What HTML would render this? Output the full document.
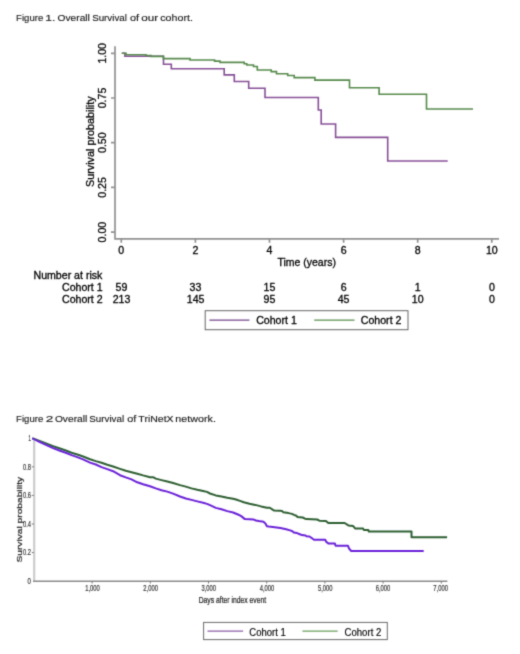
<!DOCTYPE html>
<html><head><meta charset="utf-8"><title>Overall Survival</title>
<style>
html,body{margin:0;padding:0;background:#fff;}
body{width:520px;height:654px;overflow:hidden;}
svg{display:block;will-change:transform;}
text{font-family:"Liberation Sans",sans-serif;}
</style></head>
<body>
<svg width="520" height="654" viewBox="0 0 520 654">
<defs><filter id="soft" x="0" y="0" width="520" height="654" filterUnits="userSpaceOnUse"><feConvolveMatrix order="3" kernelMatrix="0.0225 0.1050 0.0225 0.1050 0.4900 0.1050 0.0225 0.1050 0.0225" divisor="1" edgeMode="duplicate"/></filter></defs>
<rect width="520" height="654" fill="#fff"/>
<g filter="url(#soft)">

<!-- ================= FIGURE 1 ================= -->
<g font-size="9.9" fill="#1a1a1a" stroke="#1a1a1a" stroke-width="0.15">
  <text x="16.12" y="21.1" textLength="27.11" lengthAdjust="spacingAndGlyphs">Figure</text>
  <text x="45.38" y="21.1" textLength="10.13" lengthAdjust="spacingAndGlyphs">1.</text>
  <text x="57.52" y="21.1" textLength="32.36" lengthAdjust="spacingAndGlyphs">Overall</text>
  <text x="92.16" y="21.1" textLength="34.78" lengthAdjust="spacingAndGlyphs">Survival</text>
  <text x="129.94" y="21.1" textLength="9.14" lengthAdjust="spacingAndGlyphs">of</text>
  <text x="141.31" y="21.1" textLength="16.88" lengthAdjust="spacingAndGlyphs">our</text>
  <text x="160.25" y="21.1" textLength="32.62" lengthAdjust="spacingAndGlyphs">cohort.</text>
</g>

<!-- axes -->
<g stroke="#919191" stroke-width="1.7" fill="none">
  <path d="M115,46.2 V238.8 H499"/>
  <path d="M111,53.3 H115 M111,98 H115 M111,142.7 H115 M111,187.4 H115 M111,232.1 H115"/>
  <path d="M121.3,238.8 V242.7 M195.4,238.8 V242.7 M269.5,238.8 V242.7 M343.6,238.8 V242.7 M417.7,238.8 V242.7 M491.8,238.8 V242.7"/>
</g>

<!-- y tick labels (rotated) -->
<g font-size="10.6" fill="#000" stroke="#000" stroke-width="0.3" text-anchor="middle">
  <text transform="translate(106,53.3) rotate(-90)">1.00</text>
  <text transform="translate(106,98) rotate(-90)">0.75</text>
  <text transform="translate(106,142.7) rotate(-90)">0.50</text>
  <text transform="translate(106,187.4) rotate(-90)">0.25</text>
  <text transform="translate(106,232.1) rotate(-90)">0.00</text>
</g>
<text transform="translate(93.8,141.7) rotate(-90)" font-size="10.8" fill="#000" stroke="#000" stroke-width="0.3" text-anchor="middle" textLength="90.7" lengthAdjust="spacingAndGlyphs">Survival probability</text>

<!-- x tick labels -->
<g font-size="10.6" fill="#000" stroke="#000" stroke-width="0.3" text-anchor="middle">
  <text x="121.3" y="253.8">0</text>
  <text x="195.4" y="253.8">2</text>
  <text x="269.5" y="253.8">4</text>
  <text x="343.6" y="253.8">6</text>
  <text x="417.7" y="253.8">8</text>
  <text x="491.8" y="253.8">10</text>
</g>
<text x="306.7" y="265.8" font-size="10.5" fill="#000" stroke="#000" stroke-width="0.3" text-anchor="middle">Time (years)</text>

<!-- curves -->
<path fill="none" stroke="#864f96" stroke-width="1.6" d="M121.8,53.3 H124.9 V56.3 H163.5 V64.2 H171.3 V68.8 H224.2 V74.9 H234.3 V81.5 H248.7 V88.3 H265 V97.5 H318.3 V110 H321.2 V124 H335.6 V137.4 H387.7 V161 H447.7"/>
<path fill="none" stroke="#578a4c" stroke-width="1.6" d="M121.8,53.3 H126 V54.7 H146 V55.5 H151 V56.4 H163.4 V58.6 H190 V60 H214.6 V61.1 H220 V62.4 H244.2 V63.8 H246.8 V65 H253.5 V66.5 H257.3 V70 H271.2 V71.6 H276.5 V73.7 H287.7 V75.5 H294.2 V77.6 H314.9 V80.1 H349.5 V87.8 H379.1 V94.2 H426.5 V109 H473"/>

<!-- number at risk -->
<g font-size="10.6" fill="#000" stroke="#000" stroke-width="0.3">
  <text x="33.5" y="278.5">Number at risk</text>
  <text x="62" y="290.6">Cohort 1</text>
  <text x="62" y="302.9">Cohort 2</text>
</g>
<g font-size="10.6" fill="#000" stroke="#000" stroke-width="0.3" text-anchor="middle">
  <text x="121.5" y="290.6">59</text>
  <text x="195.4" y="290.6">33</text>
  <text x="269.5" y="290.6">15</text>
  <text x="343.6" y="290.6">6</text>
  <text x="417.7" y="290.6">1</text>
  <text x="491.9" y="290.6">0</text>
  <text x="121.5" y="302.6">213</text>
  <text x="195.6" y="302.6">145</text>
  <text x="269.5" y="302.6">95</text>
  <text x="343.6" y="302.6">45</text>
  <text x="417.7" y="302.6">10</text>
  <text x="491.9" y="302.6">0</text>
</g>

<!-- legend 1 -->
<rect x="205.2" y="310.7" width="202.8" height="19" fill="none" stroke="#666" stroke-width="1"/>
<path d="M209.4,320.1 H249.4" stroke="#72458a" stroke-width="1.3"/>
<path d="M314.2,320.1 H354.5" stroke="#5a8e50" stroke-width="1.3"/>
<g font-size="10.6" fill="#000" stroke="#000" stroke-width="0.3">
  <text x="256.2" y="324.3">Cohort 1</text>
  <text x="360.8" y="324.3">Cohort 2</text>
</g>

<!-- ================= FIGURE 2 ================= -->
<g font-size="9.9" fill="#1a1a1a" stroke="#1a1a1a" stroke-width="0.15">
  <text x="16.12" y="421.5" textLength="27.11" lengthAdjust="spacingAndGlyphs">Figure</text>
  <text x="45.82" y="421.5" textLength="7.56" lengthAdjust="spacingAndGlyphs">2</text>
  <text x="54.92" y="421.5" textLength="32.36" lengthAdjust="spacingAndGlyphs">Overall</text>
  <text x="89.26" y="421.5" textLength="34.89" lengthAdjust="spacingAndGlyphs">Survival</text>
  <text x="127.24" y="421.5" textLength="9.14" lengthAdjust="spacingAndGlyphs">of</text>
  <text x="138.37" y="421.5" textLength="35.25" lengthAdjust="spacingAndGlyphs">TriNetX</text>
  <text x="175.39" y="421.5" textLength="40.49" lengthAdjust="spacingAndGlyphs">network.</text>
</g>

<!-- axes -->
<path d="M34.2,438.5 V581.2" stroke="#cccccc" stroke-width="2.2" fill="none"/>
<path d="M33,581.2 H447.4" stroke="#8a8a8a" stroke-width="1.6" fill="none"/>
<g stroke="#777" stroke-width="1" fill="none">
  <path d="M31.8,466.8 H34 M31.8,495.4 H34 M31.8,524 H34 M31.8,552.6 H34"/>
  <path d="M92.1,581 V583.5 M150.3,581 V583.5 M208.5,581 V583.5 M266.7,581 V583.5 M324.9,581 V583.5 M383.1,581 V583.5 M441.3,581 V583.5"/>
</g>
<g font-size="8.8" fill="#333" stroke="#333" stroke-width="0.2" text-anchor="end">
  <text x="30.8" y="441.2" textLength="2.4" lengthAdjust="spacingAndGlyphs">1</text>
  <text x="31" y="469.7" textLength="8" lengthAdjust="spacingAndGlyphs">0.8</text>
  <text x="31" y="498.1" textLength="8" lengthAdjust="spacingAndGlyphs">0.6</text>
  <text x="31" y="526.8" textLength="8" lengthAdjust="spacingAndGlyphs">0.4</text>
  <text x="31" y="555.3" textLength="8" lengthAdjust="spacingAndGlyphs">0.2</text>
  <text x="31" y="584" textLength="3.4" lengthAdjust="spacingAndGlyphs">0</text>
</g>
<g font-size="8.6" fill="#333" stroke="#333" stroke-width="0.2" text-anchor="middle">
  <text x="92.5" y="591.4" textLength="14.6" lengthAdjust="spacingAndGlyphs">1,000</text>
  <text x="150.6" y="591.4" textLength="14.6" lengthAdjust="spacingAndGlyphs">2,000</text>
  <text x="208.8" y="591.4" textLength="14.6" lengthAdjust="spacingAndGlyphs">3,000</text>
  <text x="267" y="591.4" textLength="14.6" lengthAdjust="spacingAndGlyphs">4,000</text>
  <text x="325.2" y="591.4" textLength="14.6" lengthAdjust="spacingAndGlyphs">5,000</text>
  <text x="383" y="591.4" textLength="14.6" lengthAdjust="spacingAndGlyphs">6,000</text>
  <text x="440.6" y="591.4" textLength="14.6" lengthAdjust="spacingAndGlyphs">7,000</text>
</g>
<text x="198.7" y="602.6" font-size="8.9" fill="#222" stroke="#222" stroke-width="0.2" textLength="67.5" lengthAdjust="spacingAndGlyphs">Days after index event</text>
<text transform="translate(21.7,519.7) rotate(-90)" font-size="7.5" fill="#222" stroke="#222" stroke-width="0.2" text-anchor="middle" textLength="85.6" lengthAdjust="spacingAndGlyphs">Survival probability</text>

<!-- curves -->
<polyline fill="none" stroke="#2e5f30" stroke-width="2" stroke-linejoin="round" points="32.3,438.3 41.5,441.6 53.1,446.3 60,448.5 65.8,450.5 71.5,452.8 77.3,454.5 83.1,456.5 90,459.2 95.8,461.1 101.5,462.8 107.3,464.8 113.1,466.5 120,468.9 125.8,470.8 131.5,472.2 137.3,473.7 143.1,475.4 150,477.2 153.5,477.3 155.8,478.6 161.5,480.1 167.3,481.5 173.1,483 180,485.1 185.8,486.6 191.5,488.4 197.3,489.8 203.1,491 207,491.9 210,493.5 215.8,495.4 221.5,496.6 227.3,497.8 233.1,498.7 236,499.5 240,500.9 243.8,502.3 249.5,503.8 255.3,504.9 261.1,506.4 266.9,507.7 269.8,507.7 273,509.9 274.1,510.5 280,510.8 282.2,511.1 283.3,512.2 288.5,513.1 292,513.9 294,514.9 296.3,515.8 297.5,516.9 302.7,517.5 305,518.7 306.7,519.1 317.1,519.5 319.4,520.7 325.9,520.9 328.3,523 344.6,523 348.4,525.4 353.2,526.1 355.3,528.6 363.1,528.6 363.8,529.9 368.3,529.9 368.8,531.6 411.5,531.6 411.5,537.2 447.1,537.2"/>
<polyline fill="none" stroke="#6a22d8" stroke-width="2" stroke-linejoin="round" points="32.3,438.3 41.5,442.8 53.1,448.1 60,450.7 65.8,452.8 71.5,455.1 77.3,457.1 83.1,459.4 90,462.6 95.8,464.5 101.5,467.1 107.3,469.1 113.1,471.2 120,475.2 125.8,477.4 131.5,479.4 137.3,482.3 143.1,484.3 150,486.3 155.8,488.4 161.5,490.2 167.3,491.6 173.1,493.6 180,496.5 185.8,498.5 191.5,499.9 197.3,501.4 203.1,502.8 207,503.9 210,505.2 215.8,507.9 221.5,509.3 227.3,511.1 233.1,512.5 238,514.5 240.9,515.9 244.9,519.1 253.8,519.6 256,520.5 258.7,521.1 263.5,521.7 265.4,523.4 266.9,526.2 268.9,526.6 274.7,527.2 280.4,528.1 286.2,529.2 290,530.4 292,531 294,532.6 297,533.1 299.8,534.2 302,535.1 305.5,535.4 306.5,536.3 309.5,536.5 312,538.3 314,539.8 325.2,539.8 326.2,541.7 328.3,543.4 334.9,543.4 335.6,545.8 348,545.8 349.1,548.6 351.2,551 423.7,551"/>

<!-- legend 2 -->
<rect x="203.6" y="622.4" width="183.7" height="17.2" fill="none" stroke="#6a6a6a" stroke-width="1"/>
<path d="M207.5,631.1 H243.1" stroke="#8c5ca4" stroke-width="1.3"/>
<path d="M302.4,631.2 H337.7" stroke="#6a9f5c" stroke-width="1.3"/>
<g font-size="10" fill="#000" stroke="#000" stroke-width="0.15">
  <text x="249.3" y="635.6" textLength="36.4" lengthAdjust="spacingAndGlyphs">Cohort 1</text>
  <text x="344.5" y="635.6" textLength="36.8" lengthAdjust="spacingAndGlyphs">Cohort 2</text>
</g>
</g>
</svg>
</body></html>
